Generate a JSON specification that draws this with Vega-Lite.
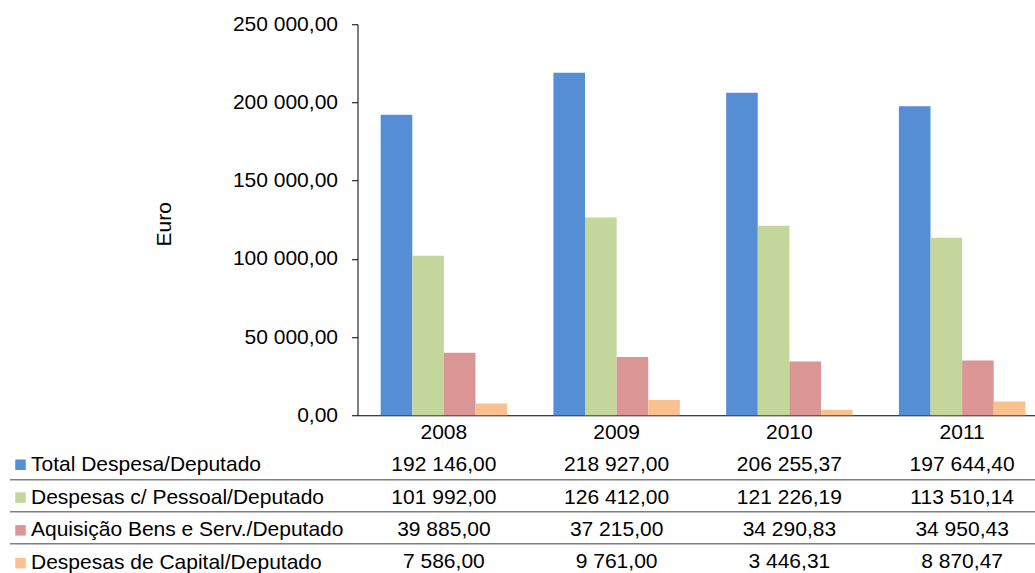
{
  "$schema": "https://vega.github.io/schema/vega-lite/v6.json",
  "autosize": {"type": "pad"},
  "padding": {"left": 8.5, "top": 13.25, "right": 0, "bottom": 0},
  "config": {
    "locale": {"number": {"decimal": ",", "thousands": " ", "grouping": [3], "currency": ["", " €"]}},
    "font": "Liberation Sans",
    "view": {"stroke": null},
    "concat": {"spacing": 5},
    "axis": {"labelFont": "Liberation Sans", "titleFont": "Liberation Sans", "labelColor": "#000", "titleColor": "#000"}
  },
  "data": {
    "values": [
      {"year": "2008", "series": "Total Despesa/Deputado", "value": 192146.00},
      {"year": "2008", "series": "Despesas c/ Pessoal/Deputado", "value": 101992.00},
      {"year": "2008", "series": "Aquisição Bens e Serv./Deputado", "value": 39885.00},
      {"year": "2008", "series": "Despesas de Capital/Deputado", "value": 7586.00},
      {"year": "2009", "series": "Total Despesa/Deputado", "value": 218927.00},
      {"year": "2009", "series": "Despesas c/ Pessoal/Deputado", "value": 126412.00},
      {"year": "2009", "series": "Aquisição Bens e Serv./Deputado", "value": 37215.00},
      {"year": "2009", "series": "Despesas de Capital/Deputado", "value": 9761.00},
      {"year": "2010", "series": "Total Despesa/Deputado", "value": 206255.37},
      {"year": "2010", "series": "Despesas c/ Pessoal/Deputado", "value": 121226.19},
      {"year": "2010", "series": "Aquisição Bens e Serv./Deputado", "value": 34290.83},
      {"year": "2010", "series": "Despesas de Capital/Deputado", "value": 3446.31},
      {"year": "2011", "series": "Total Despesa/Deputado", "value": 197644.40},
      {"year": "2011", "series": "Despesas c/ Pessoal/Deputado", "value": 113510.14},
      {"year": "2011", "series": "Aquisição Bens e Serv./Deputado", "value": 34950.43},
      {"year": "2011", "series": "Despesas de Capital/Deputado", "value": 8870.47}
    ]
  },
  "vconcat": [
    {
      "width": 691,
      "height": 391,
      "mark": {"type": "bar"},
      "encoding": {
        "x": {
          "field": "year", "type": "ordinal",
          "scale": {"paddingInner": 0, "paddingOuter": 0},
          "axis": {"title": null, "labelAngle": 0, "ticks": false, "tickSize": 0, "labelPadding": 6, "labelFontSize": 21, "domainColor": "#000", "domainWidth": 1}
        },
        "xOffset": {
          "field": "series", "type": "nominal",
          "sort": ["Total Despesa/Deputado", "Despesas c/ Pessoal/Deputado", "Aquisição Bens e Serv./Deputado", "Despesas de Capital/Deputado"],
          "scale": {"paddingInner": 0, "paddingOuter": 0.733}
        },
        "y": {
          "field": "value", "type": "quantitative",
          "scale": {"domain": [0, 250000], "nice": false},
          "axis": {
            "values": [0, 50000, 100000, 150000, 200000, 250000],
            "format": ",.2f",
            "grid": false,
            "title": "Euro",
            "titleFontWeight": "normal",
            "titleFontSize": 21,
            "titlePadding": 58,
            "titleY": 199.5,
            "tickSize": 6,
            "tickColor": "#000",
            "domainColor": "#000",
            "labelPadding": 14,
            "labelFontSize": 21
          }
        },
        "color": {
          "field": "series", "type": "nominal",
          "scale": {
            "domain": ["Total Despesa/Deputado", "Despesas c/ Pessoal/Deputado", "Aquisição Bens e Serv./Deputado", "Despesas de Capital/Deputado"],
            "range": ["#558ED5", "#C3D69B", "#D99694", "#FAC090"]
          },
          "legend": {
            "orient": "none",
            "legendX": -347.5,
            "legendY": 430,
            "title": null,
            "symbolType": "square",
            "symbolSize": 110,
            "symbolStrokeWidth": 0,
            "symbolOpacity": 1,
            "labelFontSize": 21,
            "labelFont": "Liberation Sans",
            "labelColor": "#000",
            "labelLimit": 500,
            "labelOffset": 0,
            "rowPadding": 10.8,
            "padding": 0
          }
        }
      }
    },
    {
      "width": 691,
      "height": 129,
      "mark": {"type": "text", "fontSize": 21, "font": "Liberation Sans", "color": "#000", "dy": 2},
      "encoding": {
        "x": {
          "field": "year", "type": "ordinal",
          "scale": {"type": "band", "paddingInner": 0, "paddingOuter": 0},
          "axis": null
        },
        "y": {
          "field": "series", "type": "nominal",
          "sort": ["Total Despesa/Deputado", "Despesas c/ Pessoal/Deputado", "Aquisição Bens e Serv./Deputado", "Despesas de Capital/Deputado"],
          "scale": {"type": "band", "paddingInner": 0, "paddingOuter": 0},
          "axis": {
            "title": null,
            "labels": false,
            "domain": false,
            "values": ["Despesas c/ Pessoal/Deputado", "Aquisição Bens e Serv./Deputado", "Despesas de Capital/Deputado"],
            "bandPosition": 0,
            "ticks": true,
            "tickSize": 348,
            "tickColor": "#808080",
            "tickWidth": 1.3,
            "grid": true,
            "gridColor": "#808080",
            "gridWidth": 1.3
          }
        },
        "text": {"field": "value", "type": "quantitative", "format": ",.2f"}
      }
    }
  ]
}
